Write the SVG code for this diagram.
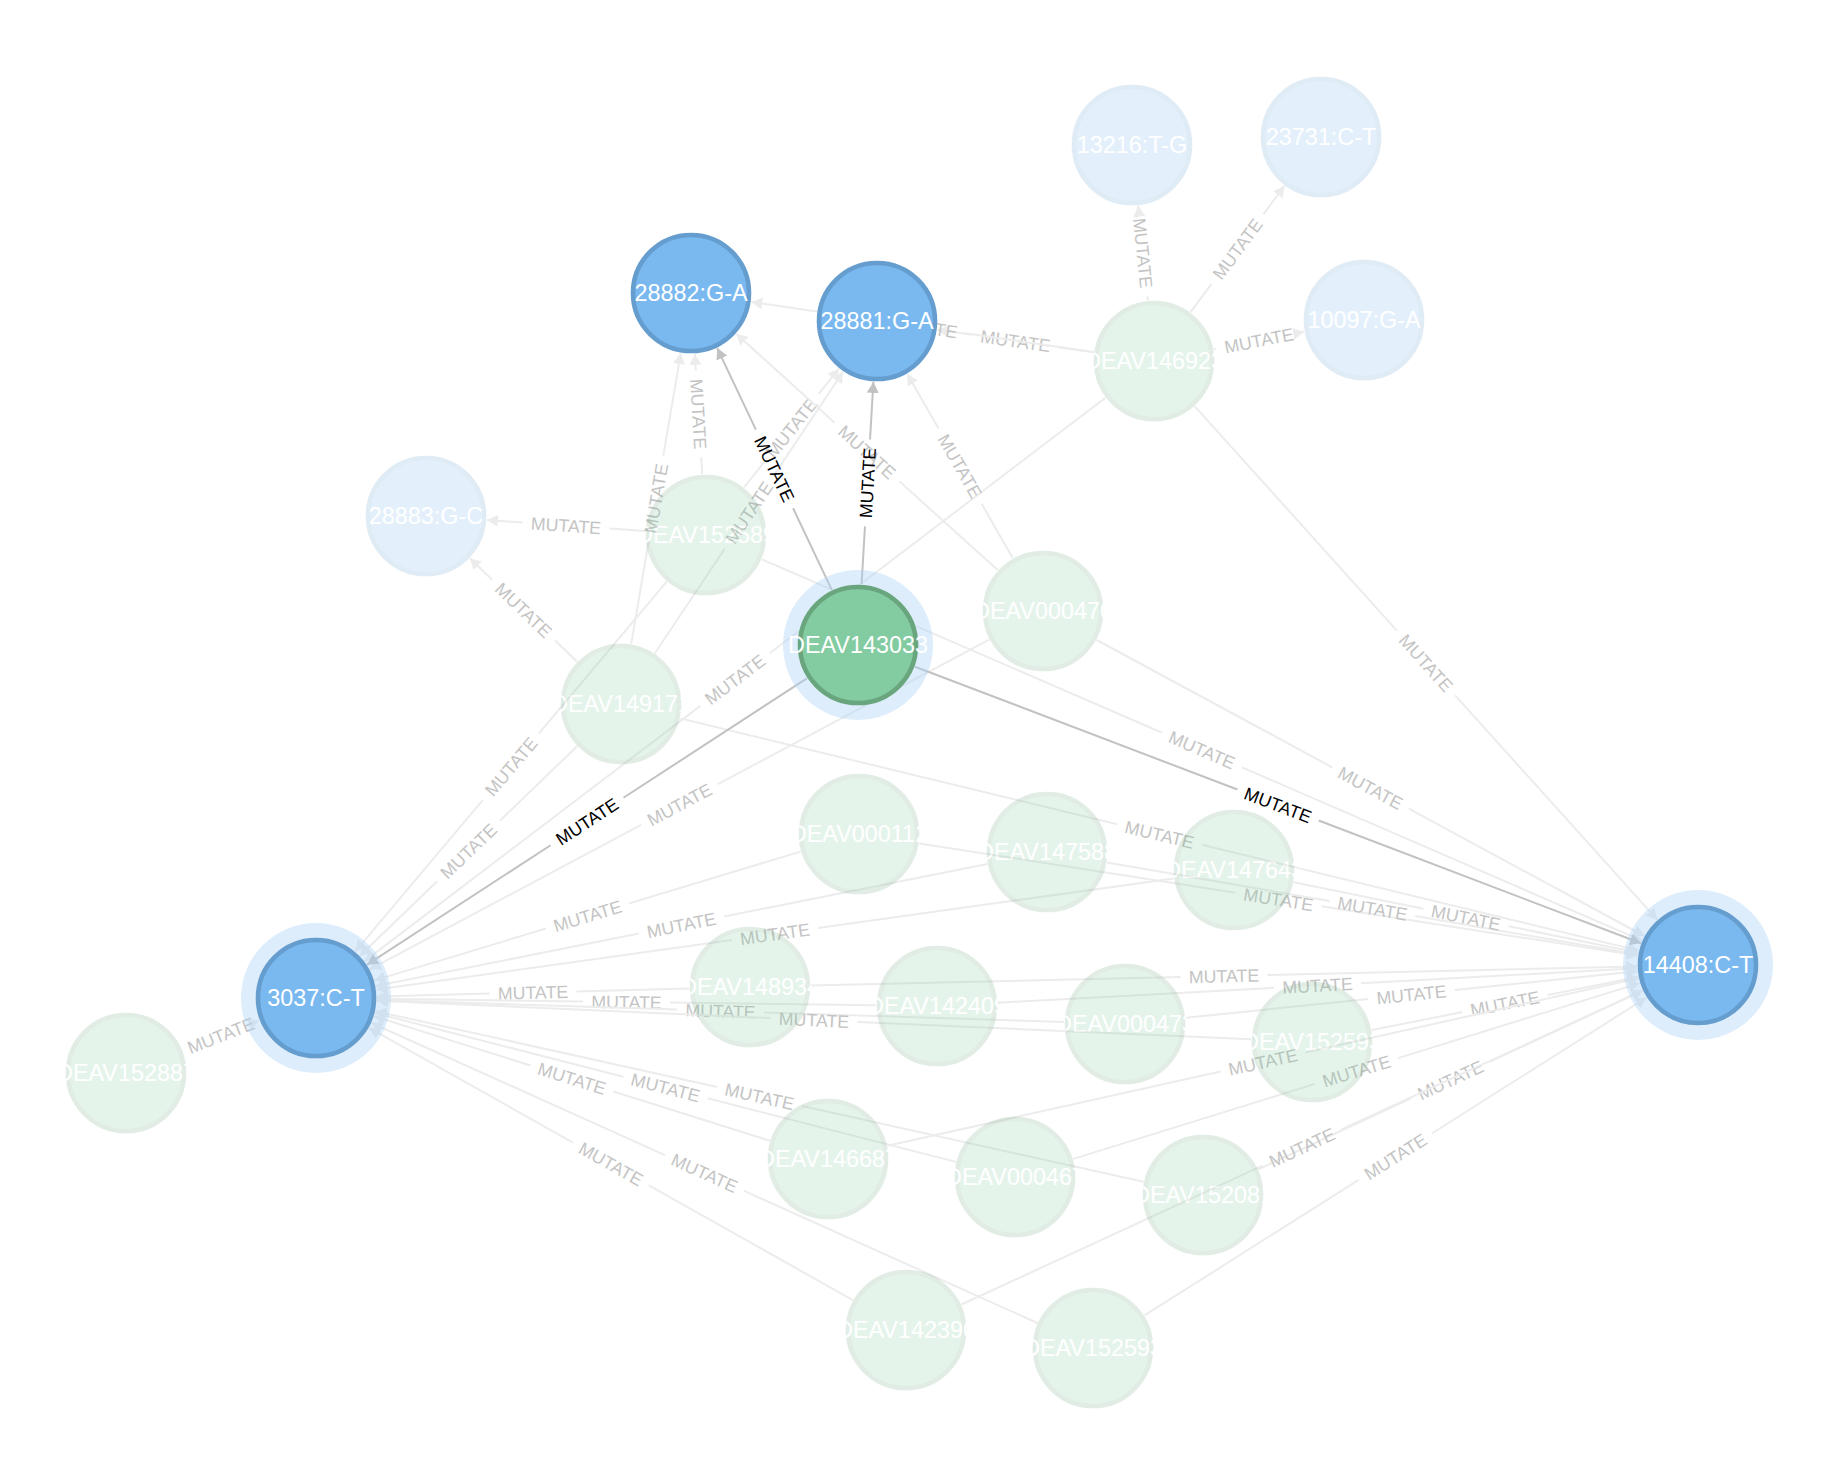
<svg xmlns="http://www.w3.org/2000/svg" width="1825" height="1459" viewBox="0 0 1825 1459">
<style>
.e{stroke:#ececec;stroke-width:2;fill:none}
.eb{stroke:#c2c2c2;stroke-width:2;fill:none}
.l{font-family:"Liberation Sans",Arial,Helvetica,sans-serif;font-size:17.75px;fill:#c4c4c4;text-anchor:middle}
.lb{fill:#000}
.node text{font-family:"Liberation Sans",Arial,Helvetica,sans-serif;font-size:23.4px;fill:#fff;text-anchor:middle}
.f{opacity:0.2}
.blue{fill:#7ab9f0;stroke:#659dcf;stroke-width:4.6}
.green{fill:#83cba1;stroke:#69a57d;stroke-width:4.6}
.halo{fill:#aad2f8;opacity:0.4}
</style>
<defs>
<marker id="af" markerUnits="userSpaceOnUse" markerWidth="12" markerHeight="14" refX="11" refY="7" orient="auto"><path d="M0,1 L11,7 L0,13 Z" fill="#ececec"/></marker>
<marker id="ab" markerUnits="userSpaceOnUse" markerWidth="12" markerHeight="14" refX="11" refY="7" orient="auto"><path d="M0,1 L11,7 L0,13 Z" fill="#c2c2c2"/></marker>
</defs>
<rect width="1825" height="1459" fill="#fff"/>
<g id="connectors">
<g class="faded">
<line class="e" x1="1147.8" y1="300.3" x2="1138.2" y2="205.7" stroke-dasharray="4.05 87 3000" marker-end="url(#af)"/><text class="l" transform="translate(1143,253) rotate(84.2)" dy="6.35">MUTATE</text>
<line class="e" x1="1190.5" y1="312.1" x2="1284.5" y2="185.9" stroke-dasharray="35.2 87 3000" marker-end="url(#af)"/><text class="l" transform="translate(1237.5,249) rotate(-53.3)" dy="6.35">MUTATE</text>
<line class="e" x1="1213.9" y1="349.3" x2="1304.1" y2="331.7" stroke-dasharray="2.5 87 3000" marker-end="url(#af)"/><text class="l" transform="translate(1259,340.5) rotate(-11.05)" dy="6.35">MUTATE</text>
<line class="e" x1="1093.6" y1="352.3" x2="937.4" y2="329.7" stroke-dasharray="35.45 87 3000" marker-end="url(#af)"/><text class="l" transform="translate(1015.5,341) rotate(8.2)" dy="6.35">MUTATE</text>
<line class="e" x1="1093.7" y1="352.1" x2="751.3" y2="301.9" stroke-dasharray="129.5 87 3000" marker-end="url(#af)"/><text class="l" transform="translate(922.5,327) rotate(8.35)" dy="6.35">MUTATE</text>
<line class="e" x1="1194.8" y1="406.3" x2="1657.2" y2="919.7" stroke-dasharray="301.95 87 3000" marker-end="url(#af)"/><text class="l" transform="translate(1426,663) rotate(48)" dy="6.35">MUTATE</text>
<line class="e" x1="1105.4" y1="397.9" x2="364.6" y2="961.1" stroke-dasharray="421.8 87 3000" marker-end="url(#af)"/><text class="l" transform="translate(735,679.5) rotate(-37.24)" dy="6.35">MUTATE</text>
<line class="e" x1="645.1" y1="530.9" x2="486.9" y2="520.1" stroke-dasharray="35.8 87 3000" marker-end="url(#af)"/><text class="l" transform="translate(566,525.5) rotate(3.9)" dy="6.35">MUTATE</text>
<line class="e" x1="702.2" y1="474.1" x2="694.8" y2="353.9" stroke-dasharray="16.75 87 3000" marker-end="url(#af)"/><text class="l" transform="translate(698.5,414) rotate(86.5)" dy="6.35">MUTATE</text>
<line class="e" x1="744.1" y1="487.3" x2="838.9" y2="368.7" stroke-dasharray="32.45 87 3000" marker-end="url(#af)"/><text class="l" transform="translate(791.5,428) rotate(-51.4)" dy="6.35">MUTATE</text>
<line class="e" x1="666.7" y1="581.7" x2="355.3" y2="951.3" stroke-dasharray="198.2 87 3000" marker-end="url(#af)"/><text class="l" transform="translate(511,766.5) rotate(-49.9)" dy="6.35">MUTATE</text>
<line class="e" x1="762" y1="559.3" x2="1642" y2="940.7" stroke-dasharray="436.1 87 3000" marker-end="url(#af)"/><text class="l" transform="translate(1202,750) rotate(23.43)" dy="6.35">MUTATE</text>
<line class="e" x1="577.1" y1="661.7" x2="469.9" y2="558.3" stroke-dasharray="30.95 87 3000" marker-end="url(#af)"/><text class="l" transform="translate(523.5,610) rotate(43.95)" dy="6.35">MUTATE</text>
<line class="e" x1="631.2" y1="643.9" x2="680.8" y2="353.1" stroke-dasharray="103.95 87 3000" marker-end="url(#af)"/><text class="l" transform="translate(656,498.5) rotate(-80.3)" dy="6.35">MUTATE</text>
<line class="e" x1="654.9" y1="653.3" x2="843.1" y2="371.7" stroke-dasharray="125.85 87 3000" marker-end="url(#af)"/><text class="l" transform="translate(749,512.5) rotate(-56.25)" dy="6.35">MUTATE</text>
<line class="e" x1="577.1" y1="746.3" x2="359.9" y2="955.7" stroke-dasharray="107.3 87 3000" marker-end="url(#af)"/><text class="l" transform="translate(468.5,851) rotate(-43.95)" dy="6.35">MUTATE</text>
<line class="e" x1="680.3" y1="718.4" x2="1638.7" y2="950.6" stroke-dasharray="449.6 87 3000" marker-end="url(#af)"/><text class="l" transform="translate(1159.5,834.5) rotate(13.62)" dy="6.35">MUTATE</text>
<line class="e" x1="997.7" y1="570.1" x2="736.3" y2="333.9" stroke-dasharray="132.7 87 3000" marker-end="url(#af)"/><text class="l" transform="translate(867,452) rotate(42.1)" dy="6.35">MUTATE</text>
<line class="e" x1="1012.7" y1="558.1" x2="907.3" y2="373.9" stroke-dasharray="62.55 87 3000" marker-end="url(#af)"/><text class="l" transform="translate(960,466) rotate(60.2)" dy="6.35">MUTATE</text>
<line class="e" x1="989.2" y1="639.7" x2="369.8" y2="969.3" stroke-dasharray="307.3 87 3000" marker-end="url(#af)"/><text class="l" transform="translate(679.5,804.5) rotate(-28.03)" dy="6.35">MUTATE</text>
<line class="e" x1="1096.7" y1="640" x2="1644.3" y2="936" stroke-dasharray="267.75 87 3000" marker-end="url(#af)"/><text class="l" transform="translate(1370.5,788) rotate(28.39)" dy="6.35">MUTATE</text>
<line class="e" x1="800.6" y1="851.6" x2="374.4" y2="980.4" stroke-dasharray="179.1 87 3000" marker-end="url(#af)"/><text class="l" transform="translate(587.5,916) rotate(-16.8)" dy="6.35">MUTATE</text>
<line class="e" x1="919.3" y1="843.4" x2="1637.7" y2="955.6" stroke-dasharray="320.1 87 3000" marker-end="url(#af)"/><text class="l" transform="translate(1278.5,899.5) rotate(8.87)" dy="6.35">MUTATE</text>
<line class="e" x1="987.2" y1="864" x2="375.8" y2="986" stroke-dasharray="268.2 87 3000" marker-end="url(#af)"/><text class="l" transform="translate(681.5,925) rotate(-11.3)" dy="6.35">MUTATE</text>
<line class="e" x1="1107.1" y1="862.4" x2="1637.9" y2="954.6" stroke-dasharray="225.85 87 3000" marker-end="url(#af)"/><text class="l" transform="translate(1372.5,908.5) rotate(9.85)" dy="6.35">MUTATE</text>
<line class="e" x1="1173.6" y1="878.4" x2="376.4" y2="989.6" stroke-dasharray="358.95 87 3000" marker-end="url(#af)"/><text class="l" transform="translate(775,934) rotate(-7.94)" dy="6.35">MUTATE</text>
<line class="e" x1="1293.8" y1="882.2" x2="1638.2" y2="952.8" stroke-dasharray="132.3 87 3000" marker-end="url(#af)"/><text class="l" transform="translate(1466,917.5) rotate(11.57)" dy="6.35">MUTATE</text>
<line class="e" x1="689" y1="988.5" x2="377" y2="996.5" stroke-dasharray="112.55 87 3000" marker-end="url(#af)"/><text class="l" transform="translate(533,992.5) rotate(-1.45)" dy="6.35">MUTATE</text>
<line class="e" x1="811" y1="985.6" x2="1637" y2="966.4" stroke-dasharray="369.65 87 3000" marker-end="url(#af)"/><text class="l" transform="translate(1224,976) rotate(-1.33)" dy="6.35">MUTATE</text>
<line class="e" x1="876" y1="1005.2" x2="377" y2="998.8" stroke-dasharray="206 87 3000" marker-end="url(#af)"/><text class="l" transform="translate(626.5,1002) rotate(0.74)" dy="6.35">MUTATE</text>
<line class="e" x1="997.9" y1="1002.7" x2="1637.1" y2="968.3" stroke-dasharray="276.55 87 3000" marker-end="url(#af)"/><text class="l" transform="translate(1317.5,985.5) rotate(-3.08)" dy="6.35">MUTATE</text>
<line class="e" x1="1064" y1="1022" x2="377" y2="1000" stroke-dasharray="300.2 87 3000" marker-end="url(#af)"/><text class="l" transform="translate(720.5,1011) rotate(1.84)" dy="6.35">MUTATE</text>
<line class="e" x1="1185.7" y1="1017.8" x2="1637.3" y2="971.2" stroke-dasharray="183.5 87 3000" marker-end="url(#af)"/><text class="l" transform="translate(1411.5,994.5) rotate(-5.88)" dy="6.35">MUTATE</text>
<line class="e" x1="1251.1" y1="1039.3" x2="376.9" y2="1000.7" stroke-dasharray="394 87 3000" marker-end="url(#af)"/><text class="l" transform="translate(814,1020) rotate(2.53)" dy="6.35">MUTATE</text>
<line class="e" x1="1371.8" y1="1030.1" x2="1638.2" y2="976.9" stroke-dasharray="92.3 87 3000" marker-end="url(#af)"/><text class="l" transform="translate(1505,1003.5) rotate(-11.28)" dy="6.35">MUTATE</text>
<line class="e" x1="769.8" y1="1140.7" x2="374.2" y2="1016.3" stroke-dasharray="163.85 87 3000" marker-end="url(#af)"/><text class="l" transform="translate(572,1078.5) rotate(17.46)" dy="6.35">MUTATE</text>
<line class="e" x1="887.5" y1="1145.7" x2="1638.5" y2="978.3" stroke-dasharray="341.2 87 3000" marker-end="url(#af)"/><text class="l" transform="translate(1263,1062) rotate(-12.57)" dy="6.35">MUTATE</text>
<line class="e" x1="955.9" y1="1161.9" x2="375.1" y2="1013.1" stroke-dasharray="256.3 87 3000" marker-end="url(#af)"/><text class="l" transform="translate(665.5,1087.5) rotate(14.36)" dy="6.35">MUTATE</text>
<line class="e" x1="1073.3" y1="1158.9" x2="1639.7" y2="983.1" stroke-dasharray="253.05 87 3000" marker-end="url(#af)"/><text class="l" transform="translate(1356.5,1071) rotate(-17.24)" dy="6.35">MUTATE</text>
<line class="e" x1="1143.5" y1="1181.8" x2="375.5" y2="1011.2" stroke-dasharray="349.8 87 3000" marker-end="url(#af)"/><text class="l" transform="translate(759.5,1096.5) rotate(12.52)" dy="6.35">MUTATE</text>
<line class="e" x1="1258.3" y1="1169.3" x2="1642.7" y2="990.7" stroke-dasharray="168.4 87 3000" marker-end="url(#af)"/><text class="l" transform="translate(1450.5,1080) rotate(-24.92)" dy="6.35">MUTATE</text>
<line class="e" x1="852.8" y1="1300.1" x2="369.2" y2="1027.9" stroke-dasharray="234 87 3000" marker-end="url(#af)"/><text class="l" transform="translate(611,1164) rotate(29.37)" dy="6.35">MUTATE</text>
<line class="e" x1="961.4" y1="1304.5" x2="1642.6" y2="990.5" stroke-dasharray="331.55 87 3000" marker-end="url(#af)"/><text class="l" transform="translate(1302,1147.5) rotate(-24.74)" dy="6.35">MUTATE</text>
<line class="e" x1="1037.4" y1="1323" x2="371.6" y2="1023" stroke-dasharray="321.6 87 3000" marker-end="url(#af)"/><text class="l" transform="translate(704.5,1173) rotate(24.25)" dy="6.35">MUTATE</text>
<line class="e" x1="1144.5" y1="1315.4" x2="1646.5" y2="997.6" stroke-dasharray="253.5 87 3000" marker-end="url(#af)"/><text class="l" transform="translate(1395.5,1156.5) rotate(-32.34)" dy="6.35">MUTATE</text>
<line class="e" x1="182.7" y1="1050.6" x2="259.3" y2="1020.4" stroke-dasharray="0 3000" marker-end="url(#af)"/><text class="l" transform="translate(221,1035.5) rotate(-21.54)" dy="6.35">MUTATE</text>
</g>
<g class="bold">
<line class="eb" x1="831.8" y1="589.9" x2="717.2" y2="348.1" stroke-dasharray="90.3 87 3000" marker-end="url(#ab)"/><text class="l lb" transform="translate(774.5,469) rotate(64.6)" dy="6.35">MUTATE</text>
<line class="eb" x1="861.6" y1="584.1" x2="873.4" y2="381.9" stroke-dasharray="57.8 87 3000" marker-end="url(#ab)"/><text class="l lb" transform="translate(867.5,483) rotate(-86.6)" dy="6.35">MUTATE</text>
<line class="eb" x1="806.9" y1="678.3" x2="367.1" y2="964.7" stroke-dasharray="218.9 87 3000" marker-end="url(#ab)"/><text class="l lb" transform="translate(587,821.5) rotate(-33.1)" dy="6.35">MUTATE</text>
<line class="eb" x1="915" y1="666.7" x2="1641" y2="943.3" stroke-dasharray="345 87 3000" marker-end="url(#ab)"/><text class="l lb" transform="translate(1278,805) rotate(20.85)" dy="6.35">MUTATE</text>
</g>
</g>
<g id="nodes">
<g id="n13216" class="node f"><circle cx="1132" cy="145" r="58" class="blue"/><text x="1132" y="153.4">13216:T-G</text></g>
<g id="n23731" class="node f"><circle cx="1321" cy="137" r="58" class="blue"/><text x="1321" y="145.4">23731:C-T</text></g>
<g id="n10097" class="node f"><circle cx="1364" cy="320" r="58" class="blue"/><text x="1364" y="328.4">10097:G-A</text></g>
<g id="n28883" class="node f"><circle cx="426" cy="516" r="58" class="blue"/><text x="426" y="524.4">28883:G-C</text></g>
<g id="sDEAV146923" class="node f"><circle cx="1154" cy="361" r="58" class="green"/><text x="1154" y="369.4">DEAV146923</text></g>
<g id="sDEAV152589" class="node f"><circle cx="706" cy="535" r="58" class="green"/><text x="706" y="543.4">DEAV152589</text></g>
<g id="sDEAV000470" class="node f"><circle cx="1043" cy="611" r="58" class="green"/><text x="1043" y="619.4">DEAV000470</text></g>
<g id="sDEAV149171" class="node f"><circle cx="621" cy="704" r="58" class="green"/><text x="621" y="712.4">DEAV149171</text></g>
<g id="sDEAV000112" class="node f"><circle cx="859" cy="834" r="58" class="green"/><text x="859" y="842.4">DEAV000112</text></g>
<g id="sDEAV147588" class="node f"><circle cx="1047" cy="852" r="58" class="green"/><text x="1047" y="860.4">DEAV147588</text></g>
<g id="sDEAV147643" class="node f"><circle cx="1234" cy="870" r="58" class="green"/><text x="1234" y="878.4">DEAV147643</text></g>
<g id="sDEAV148934" class="node f"><circle cx="750" cy="987" r="58" class="green"/><text x="750" y="995.4">DEAV148934</text></g>
<g id="sDEAV142409" class="node f"><circle cx="937" cy="1006" r="58" class="green"/><text x="937" y="1014.4">DEAV142409</text></g>
<g id="sDEAV000473" class="node f"><circle cx="1125" cy="1024" r="58" class="green"/><text x="1125" y="1032.4">DEAV000473</text></g>
<g id="sDEAV152593a" class="node f"><circle cx="1312" cy="1042" r="58" class="green"/><text x="1312" y="1050.4">DEAV152593</text></g>
<g id="sDEAV146687" class="node f"><circle cx="828" cy="1159" r="58" class="green"/><text x="828" y="1167.4">DEAV146687</text></g>
<g id="sDEAV000467" class="node f"><circle cx="1015" cy="1177" r="58" class="green"/><text x="1015" y="1185.4">DEAV000467</text></g>
<g id="sDEAV152081" class="node f"><circle cx="1203" cy="1195" r="58" class="green"/><text x="1203" y="1203.4">DEAV152081</text></g>
<g id="sDEAV142390" class="node f"><circle cx="906" cy="1330" r="58" class="green"/><text x="906" y="1338.4">DEAV142390</text></g>
<g id="sDEAV152593b" class="node f"><circle cx="1093" cy="1348" r="58" class="green"/><text x="1093" y="1356.4">DEAV152593</text></g>
<g id="sDEAV152887" class="node f"><circle cx="126" cy="1073" r="58" class="green"/><text x="126" y="1081.4">DEAV152887</text></g>
<g id="n28882" class="node"><circle cx="691" cy="293" r="58" class="blue"/><text x="691" y="301.4">28882:G-A</text></g>
<g id="n28881" class="node"><circle cx="877" cy="321" r="58" class="blue"/><text x="877" y="329.4">28881:G-A</text></g>
<g id="n3037" class="node"><circle cx="316" cy="998" r="75" class="halo"/><circle cx="316" cy="998" r="58" class="blue"/><text x="316" y="1006.4">3037:C-T</text></g>
<g id="n14408" class="node"><circle cx="1698" cy="965" r="75" class="halo"/><circle cx="1698" cy="965" r="58" class="blue"/><text x="1698" y="973.4">14408:C-T</text></g>
<g id="sDEAV143033" class="node"><circle cx="858" cy="645" r="75" class="halo"/><circle cx="858" cy="645" r="58" class="green"/><text x="858" y="653.4">DEAV143033</text></g>
</g>
</svg>
